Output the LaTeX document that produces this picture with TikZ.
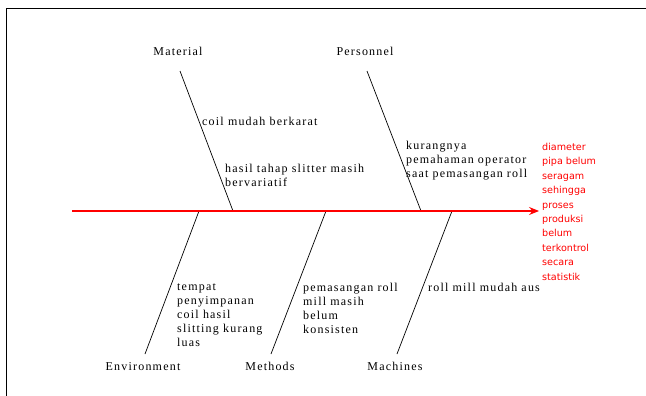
\documentclass[tikz,border=0pt]{standalone}
\usepackage{fontspec}
\setmainfont{Liberation Serif}[LetterSpace=10]
\newfontfamily\effectfont{DejaVu Sans}
\usetikzlibrary{arrows.meta}
\begin{document}
\begin{tikzpicture}[x=1pt, y=-1pt,
	category/.style={anchor=base, inner sep=0pt, font=\fontsize{12}{14}\selectfont},
	cause/.style={anchor=north west, inner sep=0pt, align=left, font=\fontsize{12}{14}\selectfont},
	bone/.style={line width=0.7pt},
	spine/.style={draw=red, line width=1.2pt, -{Stealth[length=10pt, width=8pt, inset=3.5pt]}}]
	\useasboundingbox (0,0) rectangle (646,396);
	\draw[line width=0.8pt] (6,396) -- (6,8) -- (646,8);
	\node[category] (Material) at (178, 56) {Material};
	\node[category] (Personnel) at (365, 56) {Personnel};
	\node[category] (Environment) at (143, 370) {Environment};
	\node[category] (Methods) at (270, 370) {Methods};
	\node[category] (Machines) at (395, 370) {Machines};
	\coordinate (Material top) at (180, 71);
	\coordinate (Material foot) at (233, 211);
	\coordinate (Personnel top) at (367, 71);
	\coordinate (Personnel foot) at (421, 211);
	\coordinate (Environment top) at (145, 354);
	\coordinate (Environment foot) at (199, 211);
	\coordinate (Methods top) at (271, 354);
	\coordinate (Methods foot) at (326, 211);
	\coordinate (Machines top) at (397, 354);
	\coordinate (Machines foot) at (452, 211);
	\coordinate (Tail) at (72, 211);
	\coordinate (Head) at (539, 211);
	\node[cause] (coil mudah berkarat) at (202, 117) {coil mudah berkarat};
	\node[cause] (hasil tahap slitter) at (225, 164) {hasil tahap slitter masih\\bervariatif};
	\node[cause] (kurangnya pemahaman) at (406, 141) {kurangnya\\pemahaman operator\\saat pemasangan roll};
	\node[cause] (tempat penyimpanan) at (177, 284) {tempat\\penyimpanan\\coil hasil\\slitting kurang\\luas};
	\node[cause] (pemasangan roll) at (303, 283) {pemasangan roll\\mill masih\\belum\\konsisten};
	\node[cause] (roll mill) at (428, 283) {roll mill mudah aus};
	\node[anchor=north west, inner sep=0pt, align=left, text=red, font=\effectfont\fontsize{9.6}{14.4}\selectfont] (Effect) at (542, 143) {diameter\\pipa belum\\seragam\\sehingga\\proses\\produksi\\belum\\terkontrol\\secara\\statistik};
	\draw[bone] (Material top) -- (Material foot);
	\draw[bone] (Personnel top) -- (Personnel foot);
	\draw[bone] (Environment top) -- (Environment foot);
	\draw[bone] (Methods top) -- (Methods foot);
	\draw[bone] (Machines top) -- (Machines foot);
	\draw[spine] (Tail) -- (Head);
\end{tikzpicture}
\end{document}
